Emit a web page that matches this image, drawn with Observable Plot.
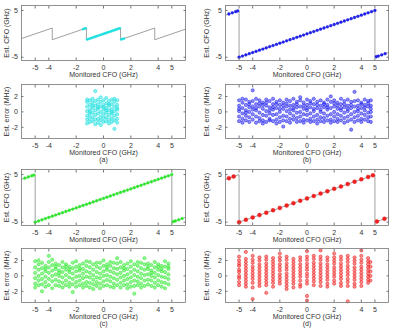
<!DOCTYPE html>
<html><head><meta charset="utf-8">
<script src="https://cdn.jsdelivr.net/npm/d3@7"></script>
<script src="https://cdn.jsdelivr.net/npm/@observablehq/plot@0.6"></script>
<style>
body{margin:0;background:#fff;}
#fig{position:relative;width:393px;height:330px;overflow:hidden;background:#fff;}
.p{position:absolute;}
</style></head><body><div id="fig"></div>
<script>
const xTicks = [-5, -4, -2, 0, 2, 4, 5];
const cfoTicks = [-5, 5];
const errTicks = [-2, 0, 2];
const xLabel = "Monitored CFO (GHz)";
const cfoLabel = "Est. CFO (GHz)";
const errLabel = "Est. error (MHz)";
const subLabels = ["(a)", "(b)", "(c)", "(d)"];
const colors = ["#1fe0e0", "#1f1fee", "#2ee82e", "#ee2020"];

// gray reference lines
const sawX = [-6, -3.75, -3.75, -1.25, -1.25, 1.25, 1.25, 3.75, 3.75, 6];
const sawY = [-1, 1.25, -1.25, 1.25, -1.25, 1.25, -1.25, 1.25, -1.25, 1];
const wrapX = [-6, -5, -5, 5, 5, 6];
const wrapY = [4, 5, -5, 5, -5, -4];

// estimated CFO markers
const aEstX = [-1.5,-1.4,-1.3,-1.2,-1.1,-1,-0.9,-0.8,-0.7,-0.6,-0.5,-0.4,-0.3,-0.2,-0.1,0,0.1,0.2,0.3,0.4,0.5,0.6,0.7,0.8,0.9,1,1.1,1.2,1.3,1.4,1.5];
const aEstY = [1,1.1,1.2,-1.2,-1.1,-1,-0.9,-0.8,-0.7,-0.6,-0.5,-0.4,-0.3,-0.2,-0.1,0,0.1,0.2,0.3,0.4,0.5,0.6,0.7,0.8,0.9,1,1.1,1.2,-1.2,-1.1,-1];
const bEstX = [-5.75,-5.5,-5.25,-5.1,-5,-4.75,-4.5,-4.25,-4,-3.75,-3.5,-3.25,-3,-2.75,-2.5,-2.25,-2,-1.75,-1.5,-1.25,-1,-0.75,-0.5,-0.25,0,0.25,0.5,0.75,1,1.25,1.5,1.75,2,2.25,2.5,2.75,3,3.25,3.5,3.75,4,4.25,4.5,4.75,5,5.1,5.25,5.5,5.75];
const bEstY = [4.25,4.5,4.75,4.9,-5,-4.75,-4.5,-4.25,-4,-3.75,-3.5,-3.25,-3,-2.75,-2.5,-2.25,-2,-1.75,-1.5,-1.25,-1,-0.75,-0.5,-0.25,0,0.25,0.5,0.75,1,1.25,1.5,1.75,2,2.25,2.5,2.75,3,3.25,3.5,3.75,4,4.25,4.5,4.75,5,-4.9,-4.75,-4.5,-4.25];
const cEstX = [-5.75,-5.5,-5.25,-5.1,-5,-4.75,-4.5,-4.25,-4,-3.75,-3.5,-3.25,-3,-2.75,-2.5,-2.25,-2,-1.75,-1.5,-1.25,-1,-0.75,-0.5,-0.25,0,0.25,0.5,0.75,1,1.25,1.5,1.75,2,2.25,2.5,2.75,3,3.25,3.5,3.75,4,4.25,4.5,4.75,5,5.1,5.25,5.5,5.75];
const cEstY = [4.25,4.5,4.75,4.9,-5,-4.75,-4.5,-4.25,-4,-3.75,-3.5,-3.25,-3,-2.75,-2.5,-2.25,-2,-1.75,-1.5,-1.25,-1,-0.75,-0.5,-0.25,0,0.25,0.5,0.75,1,1.25,1.5,1.75,2,2.25,2.5,2.75,3,3.25,3.5,3.75,4,4.25,4.5,4.75,5,-4.9,-4.75,-4.5,-4.25];
const dEstX = [-5.75,-5.4,-5,-4.5,-4,-3.5,-3,-2.5,-2,-1.5,-1,-0.5,0,0.5,1,1.5,2,2.5,3,3.5,4,4.5,4.85,5.15,5.7];
const dEstY = [4.25,4.6,-5,-4.5,-4,-3.5,-3,-2.5,-2,-1.5,-1,-0.5,0,0.5,1,1.5,2,2.5,3,3.5,4,4.5,4.85,-4.85,-4.3];

// estimation errors (MHz), grouped by monitored CFO (GHz)
const aErr = [
 [-1.2,[1.3,0.7,0.1,-0.5,-1.0,-1.5,1.6]],
 [-1.0,[1.5,0.9,0.3,-0.3,-0.8,-1.3,0.0]],
 [-0.8,[1.2,0.5,-0.1,-0.7,-1.2,1.7,0.8]],
 [-0.6,[2.7,1.4,0.8,0.2,-0.4,-1.0,-1.6]],
 [-0.4,[1.6,1.0,0.4,-0.2,-0.9,-1.4,0.6]],
 [-0.2,[1.3,0.7,0.0,-0.6,-1.1,-1.7,1.9]],
 [0.0,[1.5,0.9,0.3,-0.3,-0.8,-1.3,0.6]],
 [0.2,[1.8,1.1,0.5,-0.1,-0.7,-1.2,0.2]],
 [0.4,[1.4,0.8,0.2,-0.4,-1.0,-1.5,1.0]],
 [0.6,[1.6,1.0,0.4,-0.2,-0.8,-1.3,0.0]],
 [0.8,[1.3,0.7,0.1,-0.5,-1.1,-2.2,1.7]],
 [1.0,[1.5,0.9,0.3,-0.3,-0.9,-1.4,0.5]]
];
const bErr = [
 [-5.0,[1.5,0.8,0.1,-0.6,-1.2,0.4]],[-4.75,[1.2,0.5,-0.2,-0.9,-1.4,1.7]],
 [-4.5,[1.6,0.9,0.2,-0.5,-1.1,-0.1]],[-4.25,[1.3,0.6,0.0,-0.7,-1.3,1.0]],
 [-4.0,[2.8,1.4,0.7,-0.3,-1.0,0.3]],[-3.75,[1.7,1.0,0.2,-0.6,-1.4,0.5]],
 [-3.5,[1.5,0.7,-0.1,-0.8,-1.2,1.1]],[-3.25,[1.2,0.4,-0.4,-1.1,0.9,-1.5]],
 [-3.0,[1.6,0.8,0.1,-0.5,-1.3,1.2]],[-2.75,[1.4,0.6,-0.2,-0.9,0.2,-1.1]],
 [-2.5,[1.7,1.0,0.3,-0.4,-1.2,0.6]],[-2.25,[1.3,0.5,-0.3,-1.0,1.0,-1.5]],
 [-2.0,[1.5,0.9,0.0,-0.7,-1.3,0.4]],[-1.75,[1.2,0.4,-0.5,-1.9,-1.1,0.8]],
 [-1.5,[1.6,0.7,0.1,-0.6,-1.2,1.1]],[-1.25,[1.4,0.8,-0.2,-0.9,0.3,-1.4]],
 [-1.0,[1.7,0.9,0.2,-0.5,-1.0,0.5]],[-0.75,[1.3,0.6,-0.1,-0.8,-1.3,1.0]],
 [-0.5,[1.5,0.7,0.0,-0.6,-1.2,1.9]],[-0.25,[1.2,0.4,-0.3,-1.0,0.8,-1.4]],
 [0.0,[1.6,0.9,0.2,-0.4,-1.1,0.5]],[0.25,[1.4,0.6,-0.2,-0.9,-1.3,1.1]],
 [0.5,[1.7,1.0,0.1,-0.6,-1.2,0.4]],[0.75,[1.3,0.5,-0.4,-1.0,0.9,-1.5]],
 [1.0,[1.5,0.8,0.0,-0.7,-1.2,0.3]],[1.25,[1.2,0.6,-0.2,-0.8,-1.3,1.0]],
 [1.5,[1.6,0.9,0.3,-0.5,-1.1,0.6]],[1.75,[2.0,1.3,0.5,-0.3,-1.0,-1.4]],
 [2.0,[1.5,0.7,0.0,-0.6,-1.2,1.1]],[2.25,[1.2,0.4,-0.3,-0.9,0.8,-1.3]],
 [2.5,[1.7,1.0,0.2,-0.5,-1.1,0.5]],[2.75,[1.4,0.6,-0.1,-0.8,-1.4,1.0]],
 [3.0,[1.6,0.8,0.1,-0.6,-1.2,0.4]],[3.25,[1.3,0.5,-0.3,-1.0,-2.3,0.9]],
 [3.5,[2.6,1.4,0.7,0.0,-0.7,-1.3]],[3.75,[1.5,0.8,0.1,-0.5,-1.1,0.4]],
 [4.0,[1.2,0.5,-0.2,-0.9,-1.3,1.0]],[4.25,[1.6,0.9,0.2,-0.4,-1.0,0.6]],
 [4.5,[1.4,0.7,-0.1,-0.7,-1.2,1.1]],[4.7,[1.5,0.8,0.0,-0.6,-1.3,0.4]]
];
const cErr = [
 [-5.0,[1.9,1.1,0.4,-0.3,-1.0,-1.5]],[-4.75,[1.5,0.8,0.0,-0.6,-1.2,2.0]],
 [-4.5,[1.7,1.0,0.3,-0.4,-1.1,-2.0]],[-4.25,[1.3,0.6,-0.1,-0.8,-1.4,0.9]],
 [-4.0,[2.6,1.8,1.1,0.4,-0.4,-1.2]],[-3.75,[2.1,1.4,0.7,0.0,-0.7,-1.6]],
 [-3.5,[1.6,0.9,0.2,-0.5,-1.2,1.2]],[-3.25,[1.4,0.7,0.0,-0.7,-1.3,0.4]],
 [-3.0,[1.8,1.1,0.5,-0.2,-0.9,-1.5]],[-2.75,[1.5,0.8,0.1,-0.6,-1.2,1.2]],
 [-2.5,[1.2,0.5,-0.2,-0.9,-1.4,0.8]],[-2.25,[1.7,1.0,0.3,-0.4,-1.1,-2.1]],
 [-2.0,[1.9,1.2,0.6,-0.1,-0.8,-1.4]],[-1.75,[1.4,0.7,0.0,-0.6,-1.2,1.0]],
 [-1.5,[1.6,0.9,0.3,-0.3,-1.0,-1.5]],[-1.25,[1.3,0.6,-0.1,-0.8,-1.3,1.9]],
 [-1.0,[1.8,1.1,0.4,-0.2,-0.9,-1.5]],[-0.75,[1.5,0.8,0.1,-0.5,-1.1,-1.7]],
 [-0.5,[1.2,0.5,-0.2,-0.8,-1.3,1.7]],[-0.25,[1.7,1.0,0.3,-0.3,-1.0,-1.6]],
 [0.0,[2.0,1.3,0.6,0.0,-0.7,-1.3]],[0.25,[1.5,0.8,0.1,-0.5,-1.2,1.1]],
 [0.5,[1.3,0.6,-0.1,-0.7,-1.4,1.8]],[0.75,[1.7,1.0,0.4,-0.3,-1.0,-1.5]],
 [1.0,[2.3,1.6,0.9,0.2,-0.5,-1.2]],[1.25,[1.8,1.1,0.4,-0.2,-0.9,-1.5]],
 [1.5,[1.4,0.7,0.0,-0.6,-1.2,1.0]],[1.75,[1.6,0.9,0.2,-0.4,-1.1,-1.6]],
 [2.0,[1.9,1.2,0.5,-0.2,-0.8,-1.4]],[2.25,[1.5,0.8,0.1,-0.6,-1.3,-2.3]],
 [2.5,[1.3,0.6,-0.1,-0.7,-1.2,1.8]],[2.75,[1.7,1.0,0.3,-0.3,-1.0,-1.5]],
 [3.0,[2.3,1.5,0.8,0.1,-0.6,-1.3]],[3.25,[1.6,0.9,0.2,-0.5,-1.1,1.2]],
 [3.5,[1.4,0.7,0.0,-0.6,-1.3,0.4]],[3.75,[1.8,1.1,0.4,-0.2,-0.9,-1.5]],
 [4.0,[1.5,0.8,0.1,-0.6,-1.2,1.2]],[4.25,[1.3,0.6,-0.1,-0.8,-1.4,0.9]],
 [4.5,[1.9,1.2,0.5,-0.2,-0.9,-1.6]],[4.75,[1.6,0.9,0.2,-0.4,-1.1,1.2]]
];
const dErr = [
 [-5.0,[2.5,2.0,1.6,1.3,0.8,0.5,0.0,-0.3,-0.8,-1.2]],
 [-4.5,[3.1,2.2,1.8,1.4,1.0,0.6,0.2,-0.2,-0.6,-1.0,-1.4]],
 [-4.0,[2.6,2.1,1.7,1.2,0.8,0.4,0.0,-0.4,-0.9,-1.5,-3.0]],
 [-3.5,[2.4,2.0,1.5,1.1,0.7,0.3,-0.1,-0.5,-0.9,-1.3]],
 [-3.0,[2.5,2.1,1.6,1.2,0.8,0.4,0.0,-0.4,-0.8,-1.2,-2.2]],
 [-2.5,[2.3,1.9,1.5,1.1,0.7,0.3,-0.1,-0.5,-0.9,-1.4]],
 [-2.0,[2.9,2.4,2.0,1.5,1.1,0.7,0.2,-0.2,-0.6,-1.0]],
 [-1.5,[2.5,2.1,1.6,1.2,0.8,0.3,-0.1,-0.5,-0.9,-1.3,-1.7]],
 [-1.0,[2.2,1.8,1.4,1.0,0.6,0.2,-0.2,-0.6,-1.0,-1.5]],
 [-0.5,[2.4,2.0,1.5,1.1,0.7,0.3,-0.1,-0.6,-1.1,-1.4]],
 [0.0,[3.2,2.5,2.1,1.6,1.2,0.8,0.3,-0.1,-0.6,-1.0,-2.6,-3.2]],
 [0.5,[2.6,2.2,1.7,1.3,0.9,0.5,0.1,-0.3,-0.7,-1.2]],
 [1.0,[3.3,2.5,2.1,1.6,1.2,0.8,0.4,0.0,-0.4,-0.8,-1.3]],
 [1.5,[2.4,2.0,1.5,1.1,0.7,0.3,-0.1,-0.5,-1.0,-1.4]],
 [2.0,[2.9,2.4,2.0,1.6,1.1,0.7,0.3,-0.1,-0.6,-1.0]],
 [2.5,[2.5,2.1,1.6,1.2,0.8,0.4,0.0,-0.4,-0.9,-1.3]],
 [3.0,[2.6,2.2,1.8,1.3,0.9,0.5,0.1,-0.4,-0.8,-1.3,-3.3]],
 [3.5,[2.4,2.0,1.6,1.1,0.7,0.3,-0.1,-0.5,-1.0,-1.4]],
 [4.0,[3.3,2.6,2.1,1.7,1.2,0.8,0.4,0.0,-0.4,-0.8,-1.3]],
 [4.5,[2.3,1.9,1.5,1.1,0.7,0.3,-0.1,-0.5,-0.9]],
 [4.67,[1.8,1.2,0.6,0.0,-0.6]]
];

const zip = (xs, ys) => xs.map((x, i) => ({x, y: ys[i]}));
const flat = cols => cols.flatMap(([x, ys]) => ys.map(y => ({x, y})));
const FONT = "Liberation Sans, Arial, sans-serif";

function panel({left, top, width, height, mt, mb, ml, mr, yDomain, yTicks, yLabel, ylDx, marks, sub, titleDy, subDy}) {
  const txt = {fontFamily: FONT, fontSize: 7, fill: "#333", textAnchor: "middle"};
  const p = Plot.plot({
    width, height, marginTop: mt, marginBottom: mb, marginLeft: ml, marginRight: mr,
    style: {fontFamily: FONT, fontSize: "7px", color: "#333", background: "transparent", overflow: "visible"},
    x: {domain: [-6, 6]},
    y: {domain: yDomain},
    marks: [
      ...marks,
      Plot.frame({stroke: "#777", strokeWidth: 0.8}),
      Plot.axisX({ticks: xTicks, anchor: "bottom", tickSize: -2.5, tickPadding: 7, tickFormat: d => String(d), label: null, stroke: "#777", fill: "#333"}),
      Plot.axisX({ticks: xTicks, anchor: "top", tickSize: -2.5, tickFormat: () => "", label: null, stroke: "#777"}),
      Plot.axisY({ticks: yTicks, anchor: "left", tickSize: -2.5, tickPadding: 6, tickFormat: d => String(d), label: null, stroke: "#777", fill: "#333"}),
      Plot.axisY({ticks: yTicks, anchor: "right", tickSize: -2.5, tickFormat: () => "", label: null, stroke: "#777"}),
      Plot.text([xLabel], {...txt, text: d => d, frameAnchor: "bottom", dy: titleDy}),
      Plot.text([yLabel], {...txt, text: d => d, frameAnchor: "left", rotate: -90, dx: ylDx}),
      ...(sub ? [Plot.text([sub], {...txt, text: d => d, frameAnchor: "bottom", dy: subDy})] : [])
    ]
  });
  const div = document.createElement("div");
  div.className = "p";
  div.style.left = left + "px";
  div.style.top = top + "px";
  div.appendChild(p);
  document.getElementById("fig").appendChild(div);
}

const cols = [{left: 0, width: 196, ml: 21, mr: 11, ylDx: -15}, {left: 196, width: 197, ml: 29, mr: 5, ylDx: -18.5}];
const cfoRows = [{top: 0, height: 82, mt: 5, mb: 22}, {top: 165, height: 82, mt: 4, mb: 22}];
const errRows = [{top: 82, height: 83, mt: 2, mb: 27}, {top: 247, height: 83, mt: 1, mb: 28}];

const est = [zip(aEstX, aEstY), zip(bEstX, bEstY), zip(cEstX, cEstY), zip(dEstX, dEstY)];
const errs = [aErr, bErr, cErr, dErr];
const estR = [1.1, 1.4, 1.4, 2.0];

for (let k = 0; k < 4; k++) {
  const c = cols[k % 2], r = Math.floor(k / 2);
  const color = colors[k];
  const ref = k === 0 ? zip(sawX, sawY) : zip(wrapX, wrapY);
  panel({
    ...c, ...cfoRows[r],
    yDomain: [-5.7, 6.07], yTicks: cfoTicks, yLabel: cfoLabel, titleDy: 16, sub: null,
    marks: [
      Plot.line(ref, {x: "x", y: "y", stroke: "#888", strokeWidth: 0.8}),
      Plot.dot(est[k], {x: "x", y: "y", r: estR[k], fill: color, stroke: color, strokeWidth: 0.4})
    ]
  });
  panel({
    ...c, ...errRows[r],
    yDomain: [-3.45, 3.55], yTicks: errTicks, yLabel: errLabel, titleDy: 16.5, sub: subLabels[k], subDy: 23,
    marks: [
      Plot.dot(flat(errs[k]), {x: "x", y: "y", r: 1.6, fill: color, fillOpacity: 0.5, stroke: color, strokeWidth: 0.6, strokeOpacity: 0.9})
    ]
  });
}
</script></body></html>
